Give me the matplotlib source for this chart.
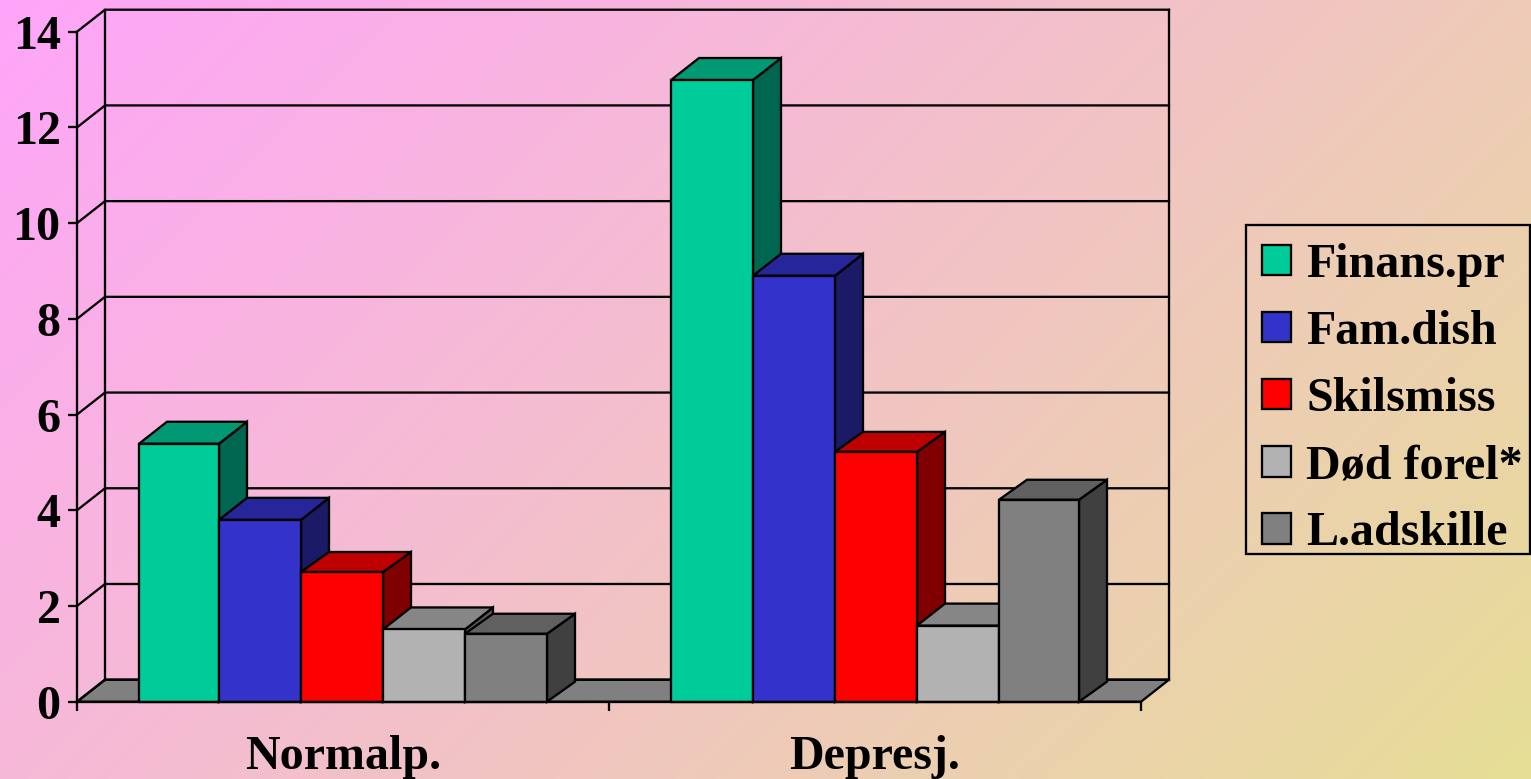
import numpy as np
import matplotlib
matplotlib.use("Agg")
import matplotlib.pyplot as plt
from matplotlib.patches import Polygon, Patch, Rectangle

categories = ["Normalp.", "Depresj."]
series_names = ["Finans.pr", "Fam.dish", "Skilsmiss", "Død forel*", "L.adskille"]
finans = [5.39, 12.99]
famdish = [3.80, 8.90]
skilsmiss = [2.71, 5.22]
dod_forel = [1.51, 1.59]
ladskille = [1.42, 4.22]
y_ticks = [0, 2, 4, 6, 8, 10, 12, 14]

front_colors = ["#00CC99", "#3333CC", "#FF0000", "#B2B2B2", "#808080"]
top_colors = ["#009973", "#26269A", "#BF0000", "#868686", "#606060"]
side_colors = ["#006650", "#1A1A66", "#800000", "#595959", "#404040"]

# bar edges inside a category, in pixels from the category's left edge
bar_edges_px = [[62, 142, 224, 306, 388, 470], [62, 144, 226, 308, 390, 470]]
bar_depth_px = [22, 22, 20, 22, 20]

W, H = 1531, 779
plt.rcParams["font.family"] = ["Liberation Serif", "DejaVu Serif"]
plt.rcParams["font.weight"] = "bold"
FS = 34.6
LW = 1.65

fig = plt.figure(figsize=(W / 100, H / 100), dpi=100)

# gradient background
bg = fig.add_axes([0, 0, 1, 1], zorder=0)
bg.axis("off")
gx, gy = np.meshgrid(np.linspace(0, 1, 300), np.linspace(0, 1, 200))
t = 0.66 * gx + 0.34 * gy
c0 = np.array([255, 165, 250]) / 255
c1 = np.array([230, 222, 150]) / 255
bg.imshow(c0[None, None, :] * (1 - t[..., None]) + c1[None, None, :] * t[..., None],
          extent=[0, 1, 1, 0], aspect="auto", interpolation="bilinear")

# front plane of the 3D box
x0, x1 = 77, 1141
y0, y14 = 701.7, 31.7
ax = fig.add_axes([x0 / W, 1 - y0 / H, (x1 - x0) / W, (y0 - y14) / H], zorder=1)
ax.patch.set_alpha(0)
n = len(categories)
ax.set_xlim(0, n)
ax.set_ylim(0, 14)
px_x = n / (x1 - x0)
px_y = 14 / (y0 - y14)
DX, DY = 28 * px_x, 22 * px_y

kw = dict(edgecolor="black", linewidth=LW, joinstyle="miter", clip_on=False)

# floor and walls
ax.add_patch(Polygon([(0, 0), (n, 0), (n + DX, DY), (DX, DY)], facecolor="#808080", zorder=1, **kw))
for v in y_ticks:
    ax.plot([0, DX, n + DX], [v, v + DY, v + DY], color="black", lw=LW,
            clip_on=False, zorder=1.5, solid_joinstyle="miter")
ax.plot([DX, DX], [DY, 14 + DY], color="black", lw=LW, clip_on=False, zorder=1.5)
ax.plot([n + DX, n + DX], [DY, 14 + DY], color="black", lw=LW, clip_on=False, zorder=1.5)

# bars
values = [finans, famdish, skilsmiss, dod_forel, ladskille]
z = 2
for c in range(n):
    for s, vals in enumerate(values):
        left = c + bar_edges_px[c][s] * px_x
        right = c + bar_edges_px[c][s + 1] * px_x
        dy = bar_depth_px[s] * px_y
        v = vals[c]
        ax.add_patch(Polygon([(right, 0), (right + DX, dy), (right + DX, v + dy), (right, v)],
                             facecolor=side_colors[s], zorder=z, **kw))
        ax.add_patch(Polygon([(left, v), (right, v), (right + DX, v + dy), (left + DX, v + dy)],
                             facecolor=top_colors[s], zorder=z, **kw))
        ax.bar(left, v, width=right - left, align="edge", color=front_colors[s],
               edgecolor="black", linewidth=LW, zorder=z, clip_on=False)
        z += 0.01

# axes
for side in ("top", "right"):
    ax.spines[side].set_visible(False)
for side in ("left", "bottom"):
    ax.spines[side].set_linewidth(LW)
    ax.spines[side].set_zorder(5)
ax.set_yticks(y_ticks)
ax.set_yticklabels([str(v) for v in y_ticks], fontsize=FS, fontweight="bold")
ax.set_xticks(range(n + 1))
ax.set_xticklabels([""] * (n + 1))
ax.tick_params(axis="both", length=6.5, width=LW, direction="out")
ax.tick_params(axis="y", pad=5.2)
for c, name in enumerate(categories):
    ax.annotate(name, xy=(c + 0.5, 0), xycoords=("data", "axes fraction"),
                xytext=(0, -67), textcoords="offset pixels", ha="center", va="baseline",
                fontsize=FS, fontweight="bold")

# legend: frame drawn separately because its padding is uneven in the reference
fig.add_artist(Rectangle((1246 / W, 1 - 554 / H), 284 / W, 329.3 / H, transform=fig.transFigure,
                         facecolor="none", edgecolor="black", linewidth=LW, zorder=3))
handles = [Patch(facecolor=fc, edgecolor="black", linewidth=LW) for fc in front_colors]
leg = ax.legend(handles, series_names, loc="upper left",
                bbox_to_anchor=(1262 / W, 1 - 243 / H), bbox_transform=fig.transFigure,
                fontsize=FS, frameon=False,
                handlelength=0.6, handleheight=0.6, handletextpad=0.32,
                labelspacing=0.48, borderpad=0, borderaxespad=0)

fig.savefig("out.png", dpi=100)
